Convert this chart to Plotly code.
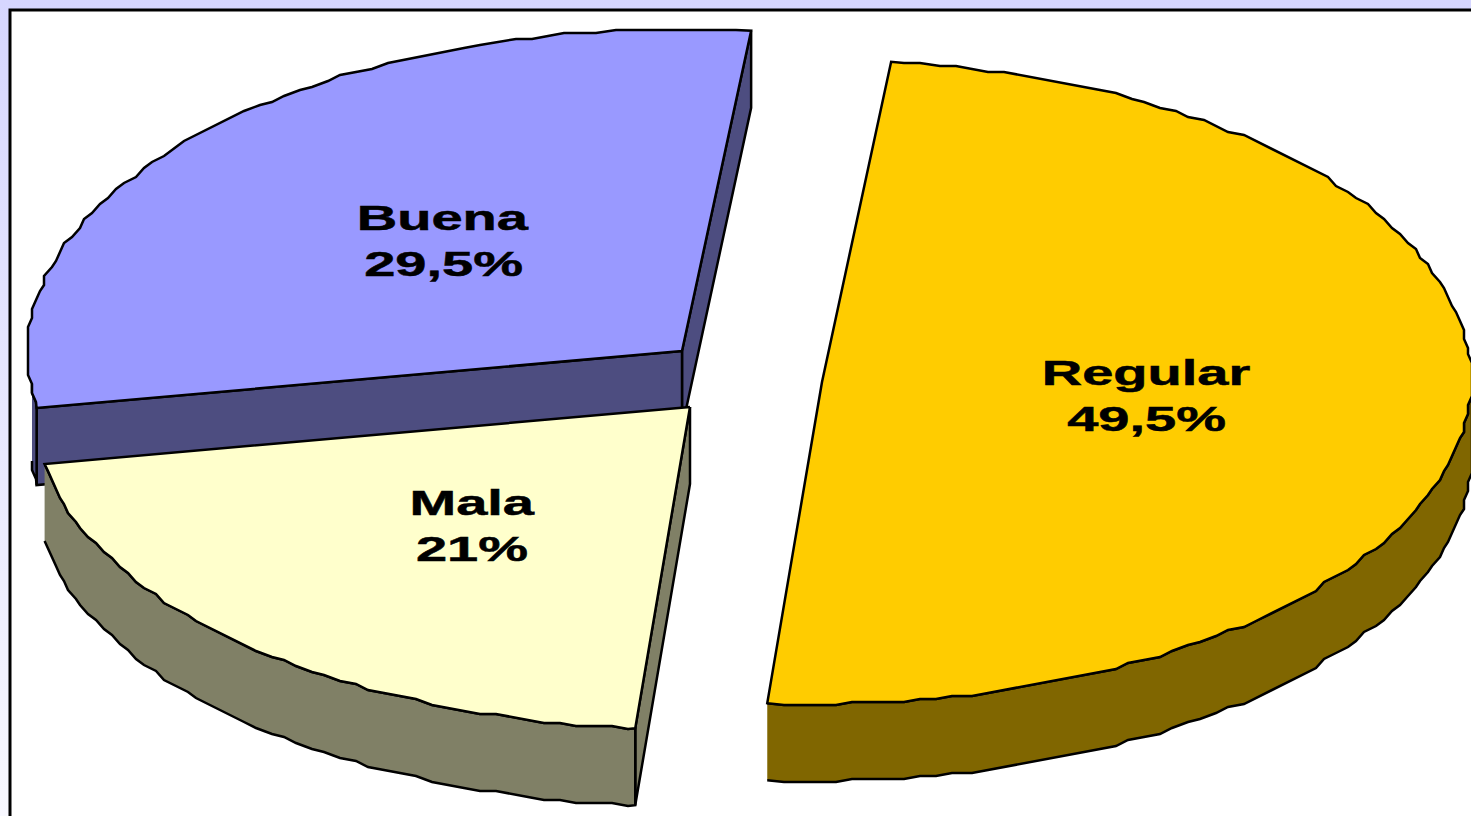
import numpy as np
import plotly.graph_objects as go

# Data
categories = ["Buena", "Mala", "Regular"]
shares = [29.5, 21.0, 49.5]
share_labels = ["29,5%", "21%", "49,5%"]

# Style
top_colors = ["#9999ff", "#ffffcc", "#ffcc00"]
side_colors = ["#4d4d80", "#808066", "#806600"]

# Projection of the tilted, exploded pie onto the page
apex_x = [682, 690, 822]
apex_y = [351, 407, 382]
RX, RY, DEPTH = 652, 322, 77
START_DEG, SKEW, CENTER_DX = 84.0, 4.0, -3.0
W, H = 1471, 816


def ell(cx, cy, deg):
    t = np.radians(deg)
    return cx + CENTER_DX + RX * np.cos(t) + SKEW * np.sin(t), cy - RY * np.sin(t)


def arc(cx, cy, d0, d1):
    """Outline of the rim, snapped to a coarse grid like the low-res original."""
    ds = np.arange(d0, d1, 1.5)
    xs, ys = ell(cx, cy, ds)
    xs, ys = np.round(xs / 4) * 4, np.round(ys / 3) * 3
    xe, ye = ell(cx, cy, np.array([d0, d1]))
    xs = np.r_[xe[0], xs[1:], xe[1]]
    ys = np.r_[ye[0], ys[1:], ye[1]]
    ds = np.r_[ds, d1]
    return ds, xs, ys


fig = go.Figure()


def poly(xs, ys, color):
    fig.add_trace(go.Scatter(
        x=xs, y=ys, mode="lines", fill="toself", fillcolor=color,
        line=dict(color="#000000", width=2.5), hoverinfo="skip", showlegend=False))


# page background and frame
fig.add_trace(go.Scatter(
    x=[0, W, W, 0, 0], y=[0, 0, H, H, 0], mode="lines", line=dict(width=0),
    fill="toself", showlegend=False, hoverinfo="skip",
    fillgradient=dict(type="vertical",
                      colorscale=[[0, "#f8f8ff"], [1, "#d6d6ff"]])))
fig.add_trace(go.Scatter(
    x=[W + 20, 10, 10, W + 20, W + 20], y=[10, 10, H + 20, H + 20, 10], mode="lines",
    fill="toself", fillcolor="#ffffff", line=dict(color="#000000", width=3),
    showlegend=False, hoverinfo="skip"))

# angular extent of each slice, running counter-clockwise from the shared start
bounds = {}
a = START_DEG
for name, s in zip(categories, shares):
    bounds[name] = (a, a + s * 3.6)
    a += s * 3.6

# draw order: back to front
for i, name in enumerate(categories):
    cx, cy = apex_x[i], apex_y[i]
    d0, d1 = bounds[name]
    top, side = top_colors[i], side_colors[i]
    sx, sy = ell(cx, cy, d0)
    ex, ey = ell(cx, cy, d1)
    ds, tx, ty = arc(cx, cy, d0, d1)
    if name == "Buena":
        poly([cx, sx, sx, cx, cx], [cy, sy, sy + DEPTH, cy + DEPTH, cy], side)
        poly([cx, ex, ex, cx, cx], [cy, ey, ey + DEPTH, cy + DEPTH, cy], side)
        keep = ds >= 186
    elif name == "Mala":
        poly([cx, ex, ex, cx, cx], [cy, ey, ey + DEPTH, cy + DEPTH, cy], side)
        keep = ds >= d0
    else:
        keep = ds <= 360
    rx, ry = tx[keep], ty[keep]
    poly(np.r_[rx, rx[::-1]], np.r_[ry, ry[::-1] + DEPTH], side)
    poly(np.r_[cx, tx, cx], np.r_[cy, ty, cy], top)

# Labels sit half-way along each slice's mid radius
annotations = []
for i, name in enumerate(categories):
    d0, d1 = bounds[name]
    mid = np.radians((d0 + d1) / 2)
    lx = apex_x[i] + 0.5 * RX * np.cos(mid)
    ly = apex_y[i] - 0.5 * RY * np.sin(mid) - 1
    for txt, shift in ((name, 23), (share_labels[i], -23)):
        annotations.append(dict(
            x=lx, y=ly, xref="x", yref="y", text=f"<b>{txt}</b>", showarrow=False,
            yshift=shift, xanchor="center", yanchor="middle",
            font=dict(family="Liberation Sans", size=35, color="#000000")))

fig.update_layout(
    width=W, height=H, margin=dict(l=0, r=0, t=0, b=0),
    paper_bgcolor="#ffffff", plot_bgcolor="#ffffff", showlegend=False,
    xaxis=dict(range=[0, W], visible=False, fixedrange=True),
    yaxis=dict(range=[H, 0], visible=False, fixedrange=True),
    annotations=annotations)

# The original lettering is stretched horizontally
post = """
document.body.style.margin='0';
document.body.style.overflow='hidden';
document.querySelectorAll('.annotation-text').forEach(function(t){
  var b=t.getBBox(), c=b.x+b.width/2, k=1.6;
  t.setAttribute('transform','translate('+(c*(1-k))+',0) scale('+k+',1)');
  t.style.stroke='#000000';
  t.style.strokeWidth='0.5px';
});
"""
fig.write_html("out.html", post_script=post, config=dict(displayModeBar=False))
